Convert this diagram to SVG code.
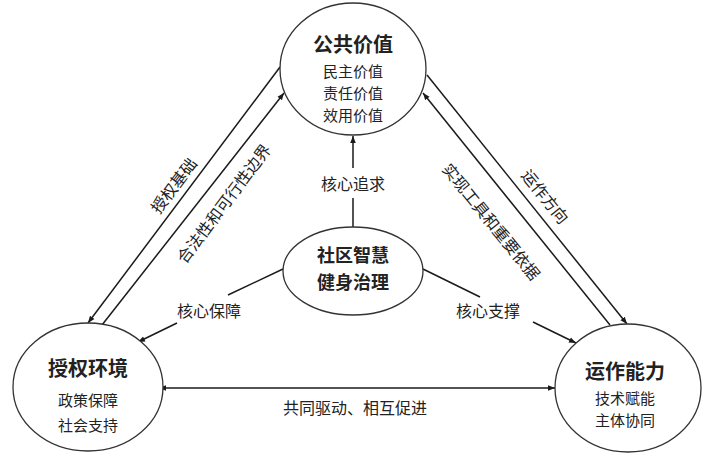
<svg xmlns="http://www.w3.org/2000/svg" width="711" height="456" viewBox="0 0 711 456">
<defs>
<marker id="ah" viewBox="0 0 10 10" refX="10" refY="5" markerWidth="7" markerHeight="7" markerUnits="userSpaceOnUse" orient="auto-start-reverse">
<path d="M0,1 L10,5 L0,9 Z" fill="#1a1a1a"/>
</marker>
<style>
.node{fill:#fff;stroke:#333;stroke-width:1.3}
.ln{stroke:#1a1a1a;stroke-width:1.5;fill:none}
.t{font-family:"Noto Sans CJK SC","Noto Sans",sans-serif;fill:#222;text-anchor:middle;dominant-baseline:central}
.title{font-size:20px;font-weight:bold}
.ctitle{font-size:18px;font-weight:bold}
.body{font-size:15px}
.lab{font-size:16px}
</style>
</defs>
<rect width="711" height="456" fill="#fff"/>
<g id="connectors">
<line class="ln" x1="280" y1="67" x2="88" y2="323" marker-end="url(#ah)"/>
<line class="ln" x1="102" y1="325" x2="284" y2="93" marker-end="url(#ah)"/>
<line class="ln" x1="427" y1="75" x2="627" y2="324" marker-end="url(#ah)"/>
<line class="ln" x1="610" y1="325" x2="423" y2="93" marker-end="url(#ah)"/>
<line class="ln" x1="353" y1="168" x2="353" y2="136" marker-end="url(#ah)"/>
<line class="ln" x1="353" y1="198" x2="353" y2="227"/>
<line class="ln" x1="283" y1="269" x2="228" y2="295"/>
<line class="ln" x1="177" y1="323" x2="138" y2="342" marker-end="url(#ah)"/>
<line class="ln" x1="423" y1="269" x2="480" y2="297"/>
<line class="ln" x1="533" y1="322" x2="576" y2="343" marker-end="url(#ah)"/>
<line class="ln" x1="159" y1="388" x2="555" y2="388" marker-start="url(#ah)" marker-end="url(#ah)"/>
<text class="t lab" x="173" y="185" transform="rotate(-53 173 185)">授权基础</text>
<text class="t lab" x="223" y="203" transform="rotate(-53 223 203)">合法性和可行性边界</text>
<text class="t lab" x="546" y="196" transform="rotate(51 546 196)">运作方向</text>
<text class="t lab" x="492" y="221" transform="rotate(51 492 221)">实现工具和重要依据</text>
<text class="t lab" x="353" y="183">核心追求</text>
<text class="t lab" x="209" y="310">核心保障</text>
<text class="t lab" x="488" y="310">核心支撑</text>
<text class="t lab" x="355" y="407">共同驱动、相互促进</text>
</g>
<g id="public-value">
<ellipse class="node" cx="353" cy="69" rx="73" ry="66"/>
<text class="t title" x="353" y="43">公共价值</text>
<text class="t body" x="353" y="70">民主价值</text>
<text class="t body" x="353" y="92">责任价值</text>
<text class="t body" x="353" y="114">效用价值</text>
</g>
<g id="center">
<ellipse class="node" cx="353" cy="271" rx="70" ry="44"/>
<text class="t ctitle" x="353" y="254">社区智慧</text>
<text class="t ctitle" x="353" y="281">健身治理</text>
</g>
<g id="authorization">
<ellipse class="node" cx="88" cy="387" rx="75" ry="64"/>
<text class="t title" x="88" y="367">授权环境</text>
<text class="t body" x="88" y="399">政策保障</text>
<text class="t body" x="88" y="424">社会支持</text>
</g>
<g id="operation">
<ellipse class="node" cx="628" cy="388" rx="73" ry="64"/>
<text class="t title" x="625" y="370">运作能力</text>
<text class="t body" x="625" y="397">技术赋能</text>
<text class="t body" x="625" y="419">主体协同</text>
</g>
</svg>
